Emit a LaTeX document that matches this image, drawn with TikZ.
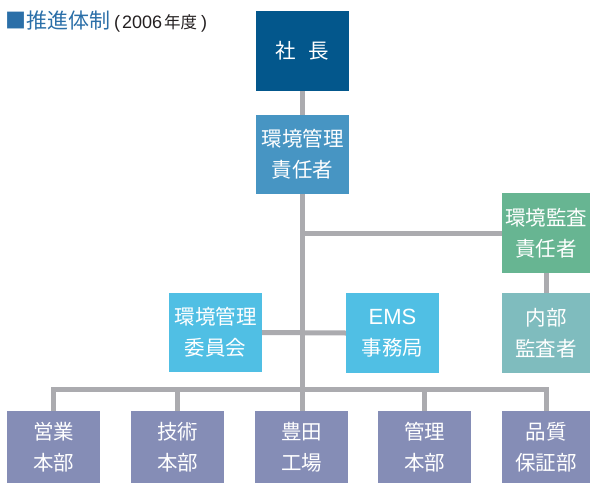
\documentclass[tikz,border=0pt]{standalone}
\usepackage{fontspec}
\newfontfamily\jp{Noto Sans CJK JP}
\newfontfamily\lat{Liberation Sans}
\usetikzlibrary{backgrounds}
\definecolor{cShacho}{HTML}{03578C}
\definecolor{cKanri}{HTML}{4795C3}
\definecolor{cKansa}{HTML}{67B592}
\definecolor{cNaibu}{HTML}{7FBCBE}
\definecolor{cLight}{HTML}{50BFE4}
\definecolor{cDept}{HTML}{858DB6}
\definecolor{cLine}{HTML}{ABABAF}
\definecolor{cTitle}{HTML}{2B6FA8}
\definecolor{cDark}{HTML}{231F20}
\tikzset{
  orgbox/.style={rectangle, inner sep=0pt, text=white, align=center,
    font=\jp\fontsize{20.5}{31}\selectfont, minimum width=93pt, minimum height=80pt},
  conn/.style={draw=cLine, line width=5pt, line cap=butt, line join=miter}
}
\begin{document}
\begin{tikzpicture}[x=1pt,y=-1pt]
\useasboundingbox (0,0) rectangle (590,483);
\node[anchor=base west, inner sep=0pt] (title) at (5,28)
  {\jp\fontsize{21}{24}\selectfont\color{cTitle}■推進体制\color{cDark}\hspace{4pt}{\lat\fontsize{18}{20}\selectfont(\hspace{2pt}2006}\hspace{2pt}{\jp\fontsize{16.5}{20}\selectfont 年度}\hspace{4pt}{\lat\fontsize{18}{20}\selectfont)}};
\node[orgbox, fill=cShacho] (shacho) at (302.5,51) {社\hspace{0.6em}長};
\node[orgbox, fill=cKanri, minimum height=79pt] (kanri) at (302.5,154.5) {環境管理\\責任者};
\node[orgbox, fill=cKansa, minimum width=88pt] (kansa) at (546,233) {環境監査\\責任者};
\node[orgbox, fill=cNaibu, minimum width=88pt] (naibu) at (546,333) {内部\\監査者};
\node[orgbox, fill=cLight, minimum height=79pt] (iinkai) at (215.5,332.5) {環境管理\\委員会};
\node[orgbox, fill=cLight] (ems) at (392.5,333) {{\lat\fontsize{22}{31}\selectfont EMS}\\事務局};
\node[orgbox, fill=cDept, minimum height=72pt] (b1) at (53.5,447) {営業\\本部};
\node[orgbox, fill=cDept, minimum height=72pt] (b2) at (177.5,447) {技術\\本部};
\node[orgbox, fill=cDept, minimum height=72pt] (b3) at (301.5,447) {豊田\\工場};
\node[orgbox, fill=cDept, minimum height=72pt] (b4) at (424.5,447) {管理\\本部};
\node[orgbox, fill=cDept, minimum width=88pt, minimum height=72pt] (b5) at (546,447) {品質\\保証部};
\coordinate (bus) at (302,389);
\begin{pgfonlayer}{background}
  \draw[conn] (shacho.south -| bus) -- (bus);
  \draw[conn] (kansa.west) -- (kansa.west -| bus);
  \draw[conn] (kansa.south) -- (naibu.north);
  \draw[conn] (iinkai.east) -- (ems.west);
  \draw[conn] (b1.north) |- (bus) -| (b5.north);
  \draw[conn] (b2.north) -- (b2.north |- bus);
  \draw[conn] (b4.north) -- (b4.north |- bus);
  \draw[conn] (bus) -- (b3.north -| bus);
\end{pgfonlayer}
\end{tikzpicture}
\end{document}
